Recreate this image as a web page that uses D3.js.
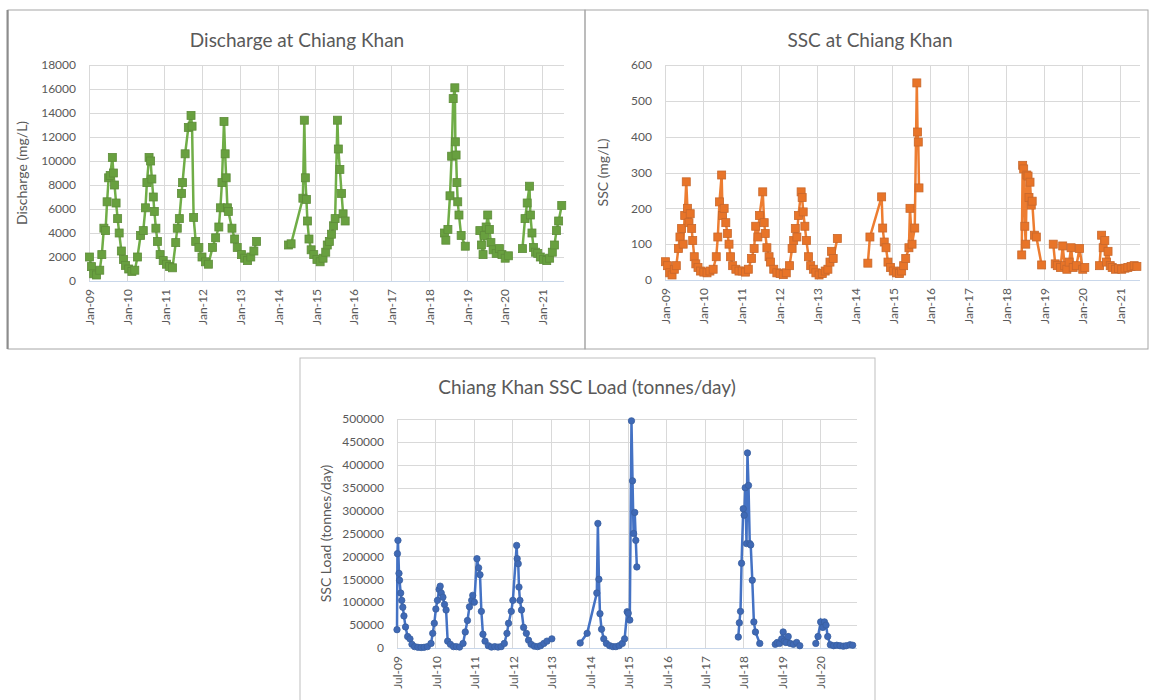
<!DOCTYPE html>
<html>
<head>
<meta charset="utf-8">
<script src="https://cdn.jsdelivr.net/npm/d3@7"></script>
<style>
  body { margin: 0; background: #fff; }
  text { font-family: Lato, "Open Sans", sans-serif; fill: #595959; }
</style>
</head>
<body>
<svg id="chart" width="1155" height="700"></svg>
<script>
// ---------------- data ----------------
// discharge at Chiang Khan, one line per season, null = gap in the record
var dischargeDates = [
  "2009-01-05","2009-01-25","2009-02-15","2009-03-15","2009-04-15","2009-05-05","2009-05-25","2009-06-10","2009-06-25","2009-07-10","2009-07-25","2009-08-15","2009-08-25","2009-09-05","2009-09-20","2009-10-05","2009-10-20","2009-11-10","2009-12-01","2009-12-20",
  "2010-01-20","2010-02-20","2010-03-20","2010-04-15","2010-05-15","2010-06-10","2010-07-01","2010-07-15","2010-08-05","2010-08-20","2010-09-01","2010-09-15","2010-09-25","2010-10-10","2010-10-25","2010-11-20","2010-12-20",
  "2011-01-20","2011-02-20","2011-03-20","2011-04-20","2011-05-05","2011-05-25","2011-06-15","2011-06-25","2011-07-20","2011-08-20","2011-09-15","2011-09-25","2011-10-10","2011-10-30","2011-11-30","2011-12-30",
  "2012-02-01","2012-03-01","2012-04-10","2012-05-10","2012-06-10","2012-06-25","2012-07-10","2012-07-30","2012-08-10","2012-08-20","2012-09-01","2012-09-10","2012-10-15","2012-11-10","2012-12-05",
  "2013-01-15","2013-02-15","2013-03-15","2013-04-15","2013-05-15","2013-06-10",null,
  "2014-04-15","2014-05-10","2014-09-01","2014-09-15","2014-09-25","2014-10-05","2014-10-15","2014-10-30","2014-11-20","2014-12-15",
  "2015-01-15","2015-02-15","2015-03-15","2015-04-10","2015-04-25","2015-05-15","2015-06-05","2015-06-25","2015-07-10","2015-08-01","2015-08-10","2015-08-25","2015-09-10","2015-09-25","2015-10-15",null,
  "2018-06-01","2018-06-15","2018-07-05","2018-07-25","2018-08-10","2018-08-25","2018-09-10","2018-09-15","2018-09-22","2018-09-30","2018-10-08","2018-10-20","2018-11-10","2018-12-20",null,
  "2019-05-10","2019-05-25","2019-06-10","2019-06-25","2019-07-10","2019-07-25","2019-08-10","2019-08-25","2019-09-15","2019-10-15","2019-11-15","2019-12-10","2020-01-10","2020-02-10",null,
  "2020-06-25","2020-07-20","2020-08-10","2020-09-01","2020-09-10","2020-09-25","2020-10-10","2020-10-30","2020-11-20","2020-12-15","2021-01-15","2021-02-15","2021-03-15","2021-04-10","2021-05-01","2021-05-20","2021-06-10","2021-07-10"
];
var dischargeValues = [
  2000,1200,600,500,900,2200,4400,4200,6600,8600,8800,10300,9000,8000,6500,5200,4000,2500,1800,1300,
  1000,800,900,2000,3800,4200,6100,8200,10300,10000,8500,7000,5800,4400,3300,2200,1700,
  1400,1200,1100,3200,4400,5200,7300,8200,10600,12800,13800,12900,5300,3300,2800,2000,
  1600,1400,2800,3600,4500,6100,8200,13300,10600,8600,6100,5800,4400,3500,2800,
  2200,1900,1700,2000,2500,3300,null,
  3000,3100,6900,13400,8600,6800,5000,3500,2600,2200,
  1800,1600,1900,2400,3000,3300,3900,4600,5200,13400,11000,9300,7300,5600,5000,null,
  4000,3400,4300,7100,10400,15200,16100,11600,10500,8200,6600,5500,3800,2900,null,
  4200,3000,2200,3800,4500,5500,4300,3200,2600,2300,2700,2200,1900,2100,null,
  2700,5200,6500,7900,5500,4000,2800,2400,2300,2000,1800,1700,1900,2400,3000,4200,5000,6300
];

// suspended sediment concentration (mg/L)
var sscDates = [
  "2009-01-05","2009-01-25","2009-02-15","2009-03-10","2009-04-01","2009-04-20","2009-05-10","2009-05-25","2009-06-10","2009-06-25","2009-07-10","2009-07-25","2009-08-05","2009-08-20","2009-09-01","2009-09-15","2009-09-25","2009-10-10","2009-10-25","2009-11-15","2009-12-10",
  "2010-01-10","2010-02-10","2010-03-10","2010-04-10","2010-05-10","2010-05-25","2010-06-10","2010-07-01","2010-07-10","2010-07-25","2010-08-10","2010-08-25","2010-09-10","2010-09-25","2010-10-15","2010-11-15","2010-12-15",
  "2011-01-15","2011-02-15","2011-03-15","2011-04-15","2011-05-10","2011-05-25","2011-06-15","2011-07-01","2011-08-01","2011-08-15","2011-08-25","2011-09-10","2011-10-01","2011-10-15","2011-11-15","2011-12-15",
  "2012-01-15","2012-02-15","2012-03-15","2012-04-15","2012-05-10","2012-05-25","2012-06-10","2012-06-25","2012-07-10","2012-08-05","2012-08-15","2012-08-25","2012-09-10","2012-09-25","2012-10-15","2012-11-05","2012-12-01","2012-12-25",
  "2013-01-25","2013-02-25","2013-03-25","2013-04-20","2013-05-10","2013-05-25","2013-06-10","2013-07-20",null,
  "2014-05-10","2014-05-30","2014-09-20","2014-09-30","2014-10-15","2014-11-01","2014-11-20","2014-12-15",
  "2015-01-10","2015-02-10","2015-03-10","2015-04-01","2015-04-20","2015-05-10","2015-06-10","2015-06-20","2015-07-10","2015-08-05","2015-08-25","2015-09-01","2015-09-08","2015-09-15",null,
  "2018-06-01","2018-06-10","2018-06-20","2018-07-01","2018-07-10","2018-07-20","2018-08-01","2018-08-10","2018-08-20","2018-09-01","2018-09-10","2018-10-01","2018-10-20","2018-12-10",null,
  "2019-04-01","2019-04-20","2019-05-10","2019-06-10","2019-07-01","2019-07-20","2019-08-10","2019-09-01","2019-09-20","2019-10-10","2019-11-10","2019-12-10","2020-01-10","2020-01-30",null,
  "2020-06-20","2020-07-10","2020-07-25","2020-08-10","2020-08-25","2020-09-10","2020-10-01","2020-10-20","2020-11-20","2020-12-20","2021-01-20","2021-02-20","2021-03-20","2021-04-20","2021-05-20","2021-06-15"
];
var sscValues = [
  51,40,20,14,30,40,88,120,144,100,180,274,200,160,185,144,110,65,45,35,25,
  22,20,25,30,65,120,218,293,180,200,160,130,100,65,40,30,25,
  25,22,30,60,88,150,120,180,246,160,130,90,65,50,30,20,
  18,15,20,40,88,110,144,120,180,246,230,190,150,110,65,40,30,20,
  14,18,25,30,50,80,60,116,null,
  47,120,232,145,106,90,50,35,
  25,20,18,25,40,60,90,200,100,145,550,413,385,257,null,
  70,320,310,150,100,293,290,230,273,209,220,125,120,42,null,
  100,45,40,35,95,40,30,50,90,35,40,88,30,35,null,
  40,125,90,110,50,80,40,35,30,32,30,33,35,38,40,38
];

// SSC load (tonnes/day)
var loadDates = [
  "2009-07-01","2009-07-05","2009-07-10","2009-07-20","2009-07-25","2009-08-05","2009-08-15","2009-08-25","2009-09-05","2009-09-20","2009-10-10","2009-11-01","2009-11-20","2009-12-15",
  "2010-01-15","2010-02-15","2010-03-15","2010-04-15","2010-05-20","2010-06-05","2010-06-20","2010-07-05","2010-07-20","2010-08-05","2010-08-15","2010-08-25","2010-09-10","2010-09-25","2010-10-10","2010-10-25","2010-11-20","2010-12-20",
  "2011-01-15","2011-02-15","2011-03-20","2011-04-10","2011-05-01","2011-05-20","2011-06-10","2011-06-20","2011-07-05","2011-07-30","2011-08-15","2011-08-28","2011-09-10","2011-09-25","2011-10-15","2011-11-15","2011-12-15",
  "2012-01-15","2012-02-15","2012-03-15","2012-04-15","2012-05-10","2012-05-25","2012-06-20","2012-07-05","2012-08-10","2012-08-15","2012-08-25","2012-09-01","2012-09-10","2012-09-25","2012-10-15","2012-11-10","2012-12-01","2012-12-25",
  "2013-01-25","2013-02-25","2013-03-25","2013-04-25","2013-05-25","2013-07-10",null,
  "2014-04-05","2014-06-10","2014-09-10","2014-09-20","2014-09-30","2014-10-10","2014-10-25","2014-11-15","2014-12-10",
  "2015-01-10","2015-02-10","2015-03-10","2015-04-10","2015-05-10","2015-06-01","2015-06-25","2015-07-05","2015-07-20","2015-08-05","2015-08-15","2015-08-25","2015-09-05","2015-09-15","2015-09-25",null,
  "2018-05-15","2018-05-25","2018-06-05","2018-06-15","2018-07-01","2018-07-10","2018-07-20","2018-08-01","2018-08-10","2018-08-20","2018-09-01","2018-09-10","2018-09-25","2018-10-10","2018-10-25","2018-12-05",null,
  "2019-05-01","2019-05-20","2019-06-10","2019-07-01","2019-07-15","2019-07-25","2019-08-10","2019-09-01","2019-09-20","2019-10-20","2019-11-20","2019-12-20",null,
  "2020-05-20","2020-06-10","2020-07-05","2020-07-25","2020-08-10","2020-08-25","2020-09-10","2020-10-05","2020-11-05","2020-12-05","2021-01-05","2021-02-05","2021-03-05","2021-04-10","2021-05-05"
];
var loadValues = [
  40000,206000,235000,163000,148000,120000,104000,89000,70000,46000,25000,20000,8000,3000,
  1500,1000,1500,3000,10000,32000,54000,85000,104000,128000,135000,120000,111000,95000,83000,15000,8000,3000,
  3000,2000,10000,35000,60000,90000,104000,115000,100000,195000,175000,160000,80000,30000,15000,5000,2000,
  3000,2000,3000,10000,32000,54000,80000,104000,224000,195000,184000,133000,104000,83000,45000,32000,17000,8000,
  4000,3000,5000,10000,15000,20000,null,
  11000,32000,120000,272000,150000,75000,41000,20000,10000,
  5000,3000,3000,5000,10000,20000,79000,76000,61000,496000,365000,250000,296000,235000,177000,null,
  24000,55000,80000,185000,304000,290000,350000,228000,426000,355000,228000,225000,148000,57000,35000,10000,null,
  8000,12000,10000,20000,35000,15000,12000,25000,10000,8000,12000,5000,null,
  10000,25000,57000,45000,57000,50000,25000,7000,5000,6000,5000,4000,5000,7000,6000
];

// axis labels
var topTickYears = [2009,2010,2011,2012,2013,2014,2015,2016,2017,2018,2019,2020,2021];
var loadTickYears = [2009,2010,2011,2012,2013,2014,2015,2016,2017,2018,2019,2020];

// ---------------- drawing ----------------
var svg = d3.select("#chart");
var parseDate = d3.timeParse("%Y-%m-%d");
var fmt = d3.timeFormat("%b-%y");

// chart frames
svg.append("rect").attr("x", 8).attr("y", 10).attr("width", 577).attr("height", 339)
   .attr("fill", "none").attr("stroke", "#a6a6a6");
svg.append("line").attr("x1", 7.5).attr("x2", 7.5).attr("y1", 10).attr("y2", 349)
   .attr("stroke", "#8c8c8c").attr("stroke-width", 2);
svg.append("rect").attr("x", 585).attr("y", 10).attr("width", 563).attr("height", 339)
   .attr("fill", "none").attr("stroke", "#a6a6a6");
svg.append("rect").attr("x", 300).attr("y", 358).attr("width", 575).attr("height", 345)
   .attr("fill", "none").attr("stroke", "#bfbfbf");

function drawChart(o) {
    var g = svg.append("g");

    var x = d3.scaleTime().domain([o.start, o.end]).range([o.left, o.right]);
    var y = d3.scaleLinear().domain([0, o.yMax]).range([o.bottom, o.top]);
    var yTicks = d3.range(0, o.yMax + 1, o.yStep);

    // gridlines
    g.selectAll(".hgrid").data(yTicks).enter().append("line")
        .attr("x1", o.left).attr("x2", o.right)
        .attr("y1", function(d){ return Math.round(y(d)) + 0.5; })
        .attr("y2", function(d){ return Math.round(y(d)) + 0.5; })
        .attr("stroke", "#d9d9d9");
    g.selectAll(".vgrid").data(o.ticks).enter().append("line")
        .attr("x1", function(d){ return Math.round(x(d)) + 0.5; })
        .attr("x2", function(d){ return Math.round(x(d)) + 0.5; })
        .attr("y1", o.top).attr("y2", o.bottom)
        .attr("stroke", "#d9d9d9");
    g.append("line").attr("x1", o.left).attr("x2", o.right)
        .attr("y1", o.bottom + 0.5).attr("y2", o.bottom + 0.5)
        .attr("stroke", "#c9d7ea");

    // y tick labels
    g.selectAll(".ylab").data(yTicks).enter().append("text")
        .attr("x", o.left - 13).attr("y", function(d){ return y(d); })
        .attr("dy", "0.35em").attr("text-anchor", "end")
        .attr("font-size", 12)
        .text(function(d){ return d; });

    // x tick labels, rotated
    g.selectAll(".xlab").data(o.ticks).enter().append("text")
        .attr("transform", function(d){ return "translate(" + (x(d) + 1) + "," + (o.bottom + 8) + ") rotate(-90)"; })
        .attr("dy", "0.35em").attr("text-anchor", "end")
        .attr("font-size", 12)
        .text(function(d){ return fmt(d); });

    // titles
    g.append("text").attr("x", o.titleX).attr("y", o.titleY)
        .attr("text-anchor", "middle").attr("font-size", 19)
        .text(o.title);
    g.append("text")
        .attr("transform", "translate(" + o.yLabelX + "," + ((o.top + o.bottom) / 2) + ") rotate(-90)")
        .attr("text-anchor", "middle").attr("font-size", 14)
        .text(o.yLabel);

    // series
    var pts = o.dates.map(function(d, i){
        return {t: d ? parseDate(d) : null, v: o.values[i]};
    });
    var line = d3.line()
        .defined(function(d){ return d.v != null; })
        .x(function(d){ return x(d.t); })
        .y(function(d){ return y(d.v); });
    g.append("path").datum(pts)
        .attr("d", line).attr("fill", "none")
        .attr("stroke", o.color).attr("stroke-width", 2.5);

    var valid = pts.filter(function(d){ return d.v != null; });
    if (o.marker == "square") {
        g.selectAll(".mk").data(valid).enter().append("rect")
            .attr("x", function(d){ return x(d.t) - 4; })
            .attr("y", function(d){ return y(d.v) - 4; })
            .attr("width", 8).attr("height", 8)
            .attr("fill", o.markerFill).attr("stroke", o.markerStroke).attr("stroke-width", 0.8);
    } else {
        g.selectAll(".mk").data(valid).enter().append("circle")
            .attr("cx", function(d){ return x(d.t); })
            .attr("cy", function(d){ return y(d.v); })
            .attr("r", 3.2)
            .attr("fill", o.markerFill).attr("stroke", o.markerStroke).attr("stroke-width", 0.8);
    }
}

drawChart({
    title: "Discharge at Chiang Khan", titleX: 297, titleY: 47,
    yLabel: "Discharge (mg/L)", yLabelX: 27,
    left: 89, right: 564, top: 65, bottom: 281,
    start: new Date(2009, 0, 1), end: new Date(2021, 7, 1),
    ticks: topTickYears.map(function(yr){ return new Date(yr, 0, 1); }),
    yMax: 18000, yStep: 2000,
    dates: dischargeDates, values: dischargeValues,
    color: "#70ad47", marker: "square", markerFill: "#68a03f", markerStroke: "#5e8c3a"
});

drawChart({
    title: "SSC at Chiang Khan", titleX: 870, titleY: 47,
    yLabel: "SSC (mg/L)", yLabelX: 608,
    left: 665, right: 1140, top: 65, bottom: 280,
    start: new Date(2009, 0, 1), end: new Date(2021, 6, 15),
    ticks: topTickYears.map(function(yr){ return new Date(yr, 0, 1); }),
    yMax: 600, yStep: 100,
    dates: sscDates, values: sscValues,
    color: "#ed7d31", marker: "square", markerFill: "#e87428", markerStroke: "#c8682c"
});

drawChart({
    title: "Chiang Khan SSC Load (tonnes/day)", titleX: 587, titleY: 394,
    yLabel: "SSC Load (tonnes/day)", yLabelX: 331,
    left: 397, right: 857, top: 419, bottom: 648,
    start: new Date(2009, 6, 1), end: new Date(2021, 5, 15),
    ticks: loadTickYears.map(function(yr){ return new Date(yr, 6, 1); }),
    yMax: 500000, yStep: 50000,
    dates: loadDates, values: loadValues,
    color: "#4472c4", marker: "circle", markerFill: "#3f69b5", markerStroke: "#3a5f9f"
});
</script>
</body>
</html>
